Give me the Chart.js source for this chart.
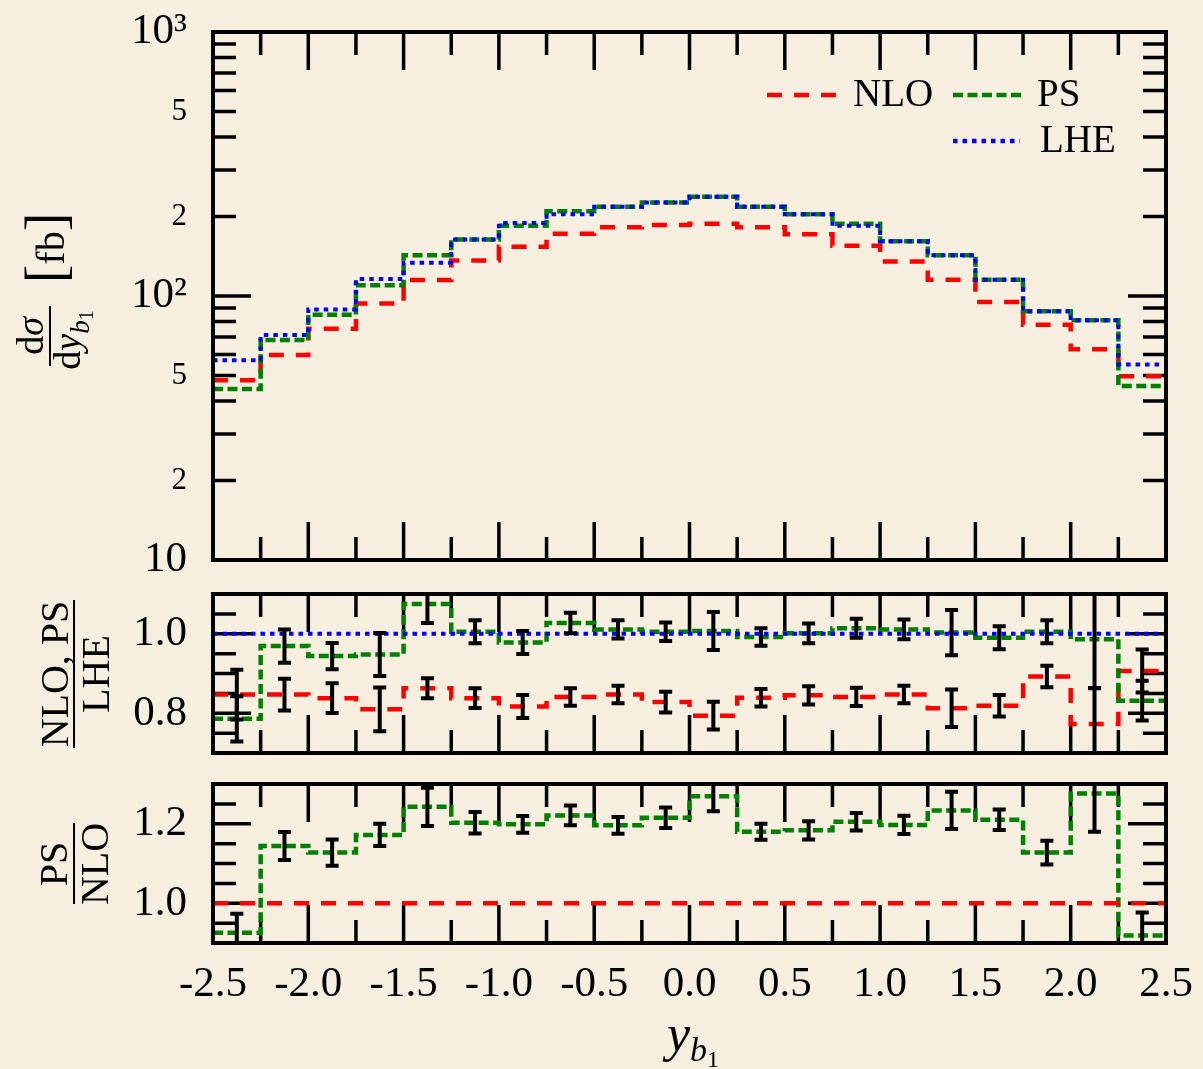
<!DOCTYPE html>
<html><head><meta charset="utf-8">
<script src="https://cdn.jsdelivr.net/npm/chart.js@4"></script>
<style>
html,body{margin:0;padding:0;background:#F6EFE0;}
body{width:1203px;height:1069px;position:relative;overflow:hidden;}
canvas{position:absolute;left:0;}
#c1{top:-28px;} #c2{top:534px;} #c3{top:724px;}
</style></head><body>
<canvas id="c1" width="1260" height="648"></canvas>
<canvas id="c2" width="1260" height="279"></canvas>
<canvas id="c3" width="1260" height="345"></canvas>
<script>
// ---------------- data ----------------
const binEdges = [-2.5,-2.25,-2.0,-1.75,-1.5,-1.25,-1.0,-0.75,-0.5,-0.25,0.0,0.25,0.5,0.75,1.0,1.25,1.5,1.75,2.0,2.25,2.5];

const nloXsec = [48.0,59.8,75.1,93.7,114.9,136.4,153.7,172.0,182.3,185.7,187.9,182.3,171.5,155.0,135.1,115.3,94.8,77.9,62.9,49.7];
const psXsec  = [44.4,68.1,84.9,109.8,142.8,163.8,184.5,209.2,217.7,225.8,237.8,217.7,204.0,187.9,161.3,142.8,115.3,87.6,80.9,45.6];
const lheXsec = [57.1,71.1,88.9,116.0,133.5,163.8,189.1,204.0,217.7,225.8,237.8,217.7,204.0,184.5,161.3,142.8,115.3,87.6,80.9,55.0];

const nloOverLhe    = [0.847,0.847,0.838,0.810,0.863,0.838,0.817,0.841,0.847,0.828,0.794,0.839,0.845,0.841,0.847,0.8125,0.819,0.8925,0.773,0.9065];
const nloOverLheErr = [0.0625,0.040,0.0375,0.055,0.025,0.025,0.029,0.022,0.022,0.026,0.035,0.022,0.023,0.023,0.022,0.047,0.027,0.027,0.090,0.054];
const psOverLhe     = [0.786,0.969,0.944,0.948,1.075,1.005,0.978,1.027,1.011,1.005,1.007,0.992,1.001,1.014,1.011,1.003,0.990,1.005,0.986,0.8315];
const psOverLheErr  = [0.057,0.042,0.033,0.054,0.048,0.029,0.029,0.026,0.023,0.023,0.048,0.022,0.025,0.024,0.025,0.057,0.029,0.029,0.1225,0.050];
const lheOverLhe    = [1,1,1,1,1,1,1,1,1,1,1,1,1,1,1,1,1,1,1,1];

const psOverNlo     = [0.926,1.144,1.1275,1.172,1.2425,1.2025,1.1985,1.221,1.196,1.215,1.269,1.180,1.1835,1.205,1.197,1.2335,1.210,1.1275,1.276,0.919];
const psOverNloErr  = [0.0475,0.035,0.033,0.028,0.048,0.027,0.021,0.025,0.021,0.026,0.0375,0.020,0.023,0.022,0.023,0.047,0.026,0.030,0.096,0.058];
const nloOverNlo    = [1,1,1,1,1,1,1,1,1,1,1,1,1,1,1,1,1,1,1,1];

// ---------------- ticks ----------------
const xMajorTicks = [-2.5,-2.0,-1.5,-1.0,-0.5,0.0,0.5,1.0,1.5,2.0,2.5];
const xMinorTicks = [-2.25,-1.75,-1.25,-0.75,-0.25,0.25,0.75,1.25,1.75,2.25];
const xTickLabels = ['-2.5','-2.0','-1.5','-1.0','-0.5','0.0','0.5','1.0','1.5','2.0','2.5'];

const topTickValues = [10,20,50,100,200,500,1000];
const topTickLabels = ['10','2','5','10²','2','5','10³'];
const topMajorTicks = [10,100,1000];
const topMinorTicks = [20,30,40,50,60,70,80,90,200,300,400,500,600,700,800,900];

const midTickValues = [0.8,1.0];
const midTickLabels = ['0.8','1.0'];
const midMinorTicks = [0.75,0.85,0.9,0.95,1.05];

const botTickValues = [1.0,1.2];
const botTickLabels = ['1.0','1.2'];
const botMinorTicks = [0.95,1.05,1.1,1.15,1.25];

// ---------------- styling ----------------
const SERIF = "'Liberation Serif','Times New Roman',serif";
const RED = '#FF0000', GREEN = '#008000', BLUE = '#0000FF';
const DASH_NLO = [15,12], DASH_PS = [10,4.5], DOT_LHE = [4.5,5];
const MAJ = 38, MIN = 23;

function stepData(vals){
  const pts = vals.map((v,i)=>({x: binEdges[i], y: v}));
  pts.push({x: binEdges[binEdges.length-1], y: vals[vals.length-1]});
  return pts;
}
function ds(vals, color, dash, order, width){
  return {data: stepData(vals), borderColor: color, borderWidth: width||4.5, borderDash: dash,
          stepped: 'before', pointRadius: 0, fill: false, order: order, tension: 0};
}

function drawRuns(ctx, runs, x, y, rotate){
  ctx.save();
  ctx.translate(x, y);
  if (rotate) ctx.rotate(-Math.PI/2);
  ctx.textBaseline = 'alphabetic'; ctx.textAlign = 'left'; ctx.fillStyle = '#000';
  let total = 0;
  const w = runs.map(r => { ctx.font = r[1]; const m = ctx.measureText(r[0]).width; total += m; return m; });
  let u = -total/2;
  runs.forEach((r,i) => { ctx.font = r[1]; ctx.fillText(r[0], u, r[2]||0); u += w[i]; });
  ctx.restore();
}
function vbar(ctx, x, y0, y1){
  ctx.save(); ctx.strokeStyle='#000'; ctx.lineWidth=2; ctx.setLineDash([]);
  ctx.beginPath(); ctx.moveTo(x,y0); ctx.lineTo(x,y1); ctx.stroke(); ctx.restore();
}
function legendLine(ctx, x0, x1, y, color, dash){
  ctx.save(); ctx.strokeStyle=color; ctx.lineWidth=4.5; ctx.setLineDash(dash);
  ctx.beginPath(); ctx.moveTo(x0,y); ctx.lineTo(x1,y); ctx.stroke(); ctx.restore();
}
function legendText(ctx, t, x, y){
  ctx.save(); ctx.font = `39px ${SERIF}`; ctx.fillStyle='#000'; ctx.textAlign='left'; ctx.textBaseline='middle';
  ctx.fillText(t, x, y); ctx.restore();
}

// canvas vertical offsets (page y of each canvas top)
const OFF1 = -28, OFF2 = 534, OFF3 = 724;

const panelCfg = {
  c1: { yMajor: topMajorTicks, yMinor: topMinorTicks, errs: [],
        deco(ctx){
          const o = OFF1, f = s => `${s}px ${SERIF}`, fi = s => `italic ${s}px ${SERIF}`;
          drawRuns(ctx, [['d', f(38)], ['σ', fi(38)]], 43, 336-o, true);
          vbar(ctx, 50, 306-o, 366-o);
          drawRuns(ctx, [['d', f(38)], ['y', fi(38)], ['b', fi(27), 9], ['1', f(20), 13]], 80, 340-o, true);
          drawRuns(ctx, [['[', f(56)], ['fb', f(40)], [']', f(56)]], 64, 248-o, true);
          legendLine(ctx, 767, 836, 95-o, RED, DASH_NLO);
          legendText(ctx, 'NLO', 853, 96-o);
          legendLine(ctx, 953, 1022, 95-o, GREEN, DASH_PS);
          legendText(ctx, 'PS', 1037, 96-o);
          legendLine(ctx, 953, 1020, 141-o, BLUE, DOT_LHE);
          legendText(ctx, 'LHE', 1040, 142-o);
        } },
  c2: { yMajor: midTickValues, yMinor: midMinorTicks,
        errs: [[nloOverLhe, nloOverLheErr], [psOverLhe, psOverLheErr]],
        deco(ctx){
          const o = OFF2, f = s => `${s}px ${SERIF}`;
          drawRuns(ctx, [['NLO, PS', f(40)]], 68, 674-o, true);
          vbar(ctx, 74, 600-o, 748-o);
          drawRuns(ctx, [['LHE', f(40)]], 109, 674-o, true);
        } },
  c3: { yMajor: botTickValues, yMinor: botMinorTicks,
        errs: [[psOverNlo, psOverNloErr]],
        deco(ctx){
          const o = OFF3, f = s => `${s}px ${SERIF}`, fi = s => `italic ${s}px ${SERIF}`;
          drawRuns(ctx, [['PS', f(40)]], 67, 864-o, true);
          vbar(ctx, 74, 823-o, 904-o);
          drawRuns(ctx, [['NLO', f(40)]], 108, 864-o, true);
          drawRuns(ctx, [['y', fi(52)], ['b', fi(34), 10], ['1', f(24), 16]], 693, 1051-o, false);
        } }
};

const panelDecor = {
  id: 'panelDecor',
  beforeDatasetsDraw(chart){
    const cfg = panelCfg[chart.canvas.id];
    const {ctx, chartArea: a, scales: {x, y}} = chart;
    ctx.save();
    ctx.strokeStyle = '#000'; ctx.lineWidth = 3.5; ctx.setLineDash([]);
    ctx.beginPath();
    const xt = (v, L) => { const p = x.getPixelForValue(v); ctx.moveTo(p, a.top); ctx.lineTo(p, a.top+L); ctx.moveTo(p, a.bottom); ctx.lineTo(p, a.bottom-L); };
    const yt = (v, L) => { const p = y.getPixelForValue(v); ctx.moveTo(a.left, p); ctx.lineTo(a.left+L, p); ctx.moveTo(a.right, p); ctx.lineTo(a.right-L, p); };
    xMajorTicks.forEach(v => xt(v, MAJ));
    xMinorTicks.forEach(v => xt(v, MIN));
    cfg.yMajor.forEach(v => yt(v, MAJ));
    cfg.yMinor.forEach(v => yt(v, MIN));
    ctx.stroke();
    ctx.restore();
  },
  afterDatasetsDraw(chart){
    const cfg = panelCfg[chart.canvas.id];
    const {ctx, chartArea: a, scales: {x, y}} = chart;
    ctx.save();
    ctx.beginPath(); ctx.rect(a.left, a.top, a.right-a.left, a.bottom-a.top); ctx.clip();
    ctx.strokeStyle = '#000'; ctx.lineWidth = 4; ctx.setLineDash([]);
    cfg.errs.forEach(([vals, errs]) => {
      vals.forEach((v, i) => {
        const cx = x.getPixelForValue((binEdges[i] + binEdges[i+1]) / 2);
        const y0 = y.getPixelForValue(v - errs[i]), y1 = y.getPixelForValue(v + errs[i]);
        ctx.beginPath();
        ctx.moveTo(cx, y0); ctx.lineTo(cx, y1);
        ctx.moveTo(cx-6.5, y0); ctx.lineTo(cx+6.5, y0);
        ctx.moveTo(cx-6.5, y1); ctx.lineTo(cx+6.5, y1);
        ctx.stroke();
      });
    });
    ctx.restore();
  },
  afterDraw(chart){
    const cfg = panelCfg[chart.canvas.id];
    const {ctx, chartArea: a} = chart;
    ctx.save();
    ctx.strokeStyle = '#000'; ctx.lineWidth = 4; ctx.setLineDash([]);
    ctx.strokeRect(a.left, a.top, a.right-a.left, a.bottom-a.top);
    ctx.restore();
    cfg.deco(ctx);
  }
};

function yAxis(type, min, max, values, labels, majors){
  return {
    type, min, max, position: 'left',
    grid: {display: false, drawTicks: false}, border: {display: false},
    afterBuildTicks: s => { s.ticks = values.map(v => ({value: v})); },
    afterFit: s => { s.width = 213; },
    ticks: {
      autoSkip: false, padding: 26, color: '#000',
      callback: v => labels[values.indexOf(v)],
      font: c => ({family: SERIF, size: (c.tick && majors.includes(c.tick.value)) ? 43 : 31})
    }
  };
}

function makeChart(id, datasets, yScale, pad, showX){
  const xScale = {
    type: 'linear', min: -2.5, max: 2.5, display: showX,
    grid: {display: false, drawTicks: false}, border: {display: false},
    afterBuildTicks: s => { s.ticks = xMajorTicks.map(v => ({value: v})); },
    ticks: {autoSkip: false, maxRotation: 0, minRotation: 0, padding: 16, color: '#000',
            font: {family: SERIF, size: 43},
            callback: v => xTickLabels[xMajorTicks.indexOf(v)]}
  };
  if (showX) xScale.afterFit = s => { s.height = 126; };
  return new Chart(document.getElementById(id), {
    type: 'line',
    data: {datasets},
    options: {
      responsive: false, animation: false, events: [],
      layout: {padding: pad},
      plugins: {legend: {display: false}, tooltip: {enabled: false}},
      scales: {x: xScale, y: yScale}
    },
    plugins: [panelDecor]
  });
}

// chart areas (page coords): x 213..1166; top 32..560, mid 594..753, bottom 784..943
makeChart('c1', [
  ds(lheXsec, BLUE, DOT_LHE, 0, 4),
  ds(psXsec, GREEN, DASH_PS, 1),
  ds(nloXsec, RED, DASH_NLO, 2)
], yAxis('logarithmic', 10, 1000, topTickValues, topTickLabels, topMajorTicks),
  {left: 0, right: 94, top: 60, bottom: 60}, false);

makeChart('c2', [
  ds(lheOverLhe, BLUE, DOT_LHE, 0, 4),
  ds(psOverLhe, GREEN, DASH_PS, 1),
  ds(nloOverLhe, RED, DASH_NLO, 2)
], yAxis('linear', 0.7, 1.1, midTickValues, midTickLabels, midTickValues),
  {left: 0, right: 94, top: 60, bottom: 60}, false);

makeChart('c3', [
  ds(nloOverNlo, RED, DASH_NLO, 0),
  ds(psOverNlo, GREEN, DASH_PS, 1)
], yAxis('linear', 0.9, 1.3, botTickValues, botTickLabels, botTickValues),
  {left: 0, right: 94, top: 60, bottom: 0}, true);
</script>
</body></html>
